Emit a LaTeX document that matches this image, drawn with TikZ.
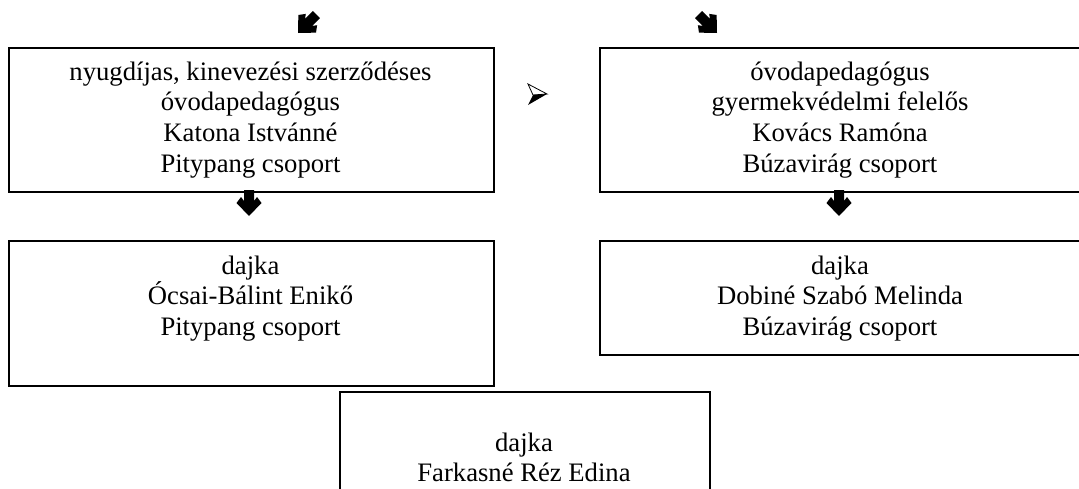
\documentclass[tikz,border=0pt]{standalone}
\usepackage{fontspec}
\setmainfont{Liberation Serif}
\begin{document}
\begin{tikzpicture}[x=0.75pt,y=-0.75pt,
  box/.style={draw,line width=1.5pt,anchor=north west,inner sep=0pt},
  txt/.style={align=center,anchor=north,inner sep=0pt,font=\fontsize{20}{23}\selectfont},
  fatarrow/.pic={\fill (0,0) -- (-12.5,-13) -- (-8,-19) -- (-5,-15) -- (-5,-26) -- (5,-26) -- (5,-15) -- (8,-19) -- (12.5,-13) -- cycle;}]
\useasboundingbox (0,0) rectangle (1079,489);
% boxes
\node[box,minimum width=363.75pt,minimum height=108pt] (b1) at (8,47) {};
\node[box,minimum width=361.5pt,minimum height=108pt] (b2) at (599,47) {};
\node[box,minimum width=363.75pt,minimum height=108.75pt] (b3) at (8,240) {};
\node[box,minimum width=361.5pt,minimum height=85.5pt] (b4) at (599,240) {};
\node[box,minimum width=277.5pt,minimum height=90pt] (b5) at (339,391) {};
% texts
\node[txt] (t1) at (250.5,53.3) {\rule{0pt}{20pt}nyugdíjas, kinevezési szerződéses\\óvodapedagógus\\Katona Istvánné\\Pitypang csoport};
\node[txt] (t2) at (840,53.3) {\rule{0pt}{20pt}óvodapedagógus\\gyermekvédelmi felelős\\Kovács Ramóna\\Búzavirág csoport};
\node[txt] (t3) at (250.5,247.3) {\rule{0pt}{20pt}dajka\\Ócsai-Bálint Enikő\\Pitypang csoport};
\node[txt] (t4) at (840,247.3) {\rule{0pt}{20pt}dajka\\Dobiné Szabó Melinda\\Búzavirág csoport};
\node[txt] (t5) at (524,424.3) {\rule{0pt}{20pt}dajka\\Farkasné Réz Edina};
% arrows
\pic at (249,216) {fatarrow};
\pic at (839,216) {fatarrow};
\pic[rotate=-45] at (298,33) {fatarrow};
\pic[rotate=45] at (717,33) {fatarrow};
% small 3D arrowhead
\coordinate (ha) at (528,84);
\coordinate (hb) at (547,94);
\coordinate (hc) at (533,95);
\coordinate (hd) at (528,105);
\draw[line width=0.6pt,fill=white] (ha) -- (hb) -- (hc) -- cycle;
\fill (hc) -- (hb) -- (hd) -- cycle;
\end{tikzpicture}
\end{document}
